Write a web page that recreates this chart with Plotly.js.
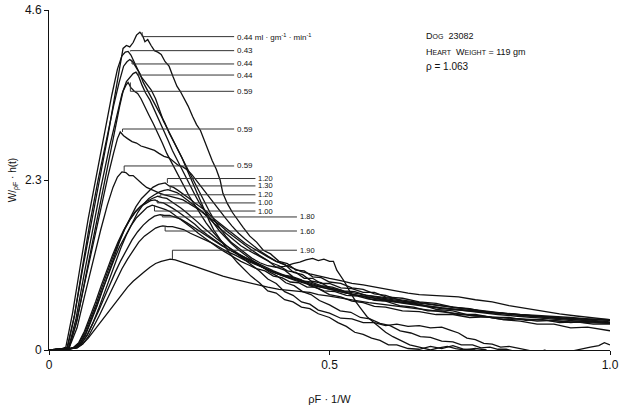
<!DOCTYPE html>
<html>
<head>
<meta charset="utf-8">
<script src="https://cdn.plot.ly/plotly-3.0.1.min.js"></script>
<style>
  body { margin: 0; background: #fff; }
  #plot { width: 623px; height: 405px; }
</style>
</head>
<body>
<div id="plot"></div>
<script>
// indicator dilution curves, dog 23082
// each curve is a list of [pF*1/W, W/pF*h(t)] points

// flow labels, same order as the curves below
let flowLabels = ['0.44 ml · gm<sup>-1</sup> · min<sup>-1</sup>', '0.43', '0.44', '0.44', '0.59', '0.59', '0.59',
    '1.20', '1.30', '1.20', '1.00', '1.00', '1.80', '1.60', '1.90']

// height of each label's leader line (same units as y axis)
let labelLevels = [4.24, 4.05, 3.87, 3.72, 3.5, 2.99, 2.49, 2.32, 2.22, 2.1, 1.99, 1.88, 1.8, 1.61, 1.35]

// low flow curves
let curve01 = [[0,0],[0.02,0.01],[0.032,0.03],[0.045,0.45],[0.06,1.1],[0.075,1.72],[0.09,2.3],[0.105,2.9],[0.118,3.45],[0.126,3.82],[0.132,4.08],[0.138,4.12],[0.144,4.1],[0.15,4.16],[0.156,4.26],[0.162,4.3],[0.167,4.25],[0.171,4.17],[0.176,4.2],[0.182,4.12],[0.188,4.05],[0.194,4.03],[0.2,4.0],[0.207,3.9],[0.214,3.84],[0.221,3.7],[0.228,3.57],[0.234,3.5],[0.241,3.4],[0.248,3.3],[0.256,3.16],[0.263,3.05],[0.27,2.97],[0.277,2.83],[0.284,2.7],[0.291,2.56],[0.298,2.45],[0.305,2.3],[0.31,2.12],[0.318,1.98],[0.327,1.86],[0.336,1.76],[0.346,1.66],[0.358,1.54],[0.37,1.46],[0.382,1.35],[0.395,1.3],[0.41,1.2],[0.425,1.17],[0.44,1.08],[0.455,1.07],[0.47,0.99],[0.485,0.98],[0.5,0.92],[0.52,0.9],[0.54,0.84],[0.56,0.82],[0.58,0.76],[0.6,0.74],[0.63,0.66],[0.66,0.62],[0.69,0.55],[0.72,0.53],[0.75,0.47],[0.78,0.45],[0.81,0.41],[0.84,0.39],[0.87,0.35],[0.9,0.35],[0.93,0.3],[0.96,0.31],[1.0,0.26]]
let curve02 = [[0,0],[0.02,0.01],[0.03,0.04],[0.042,0.5],[0.056,1.15],[0.07,1.78],[0.085,2.38],[0.1,2.98],[0.112,3.45],[0.122,3.8],[0.13,3.98],[0.136,4.03],[0.141,4.04],[0.146,3.99],[0.152,3.9],[0.158,3.8],[0.164,3.7],[0.17,3.64],[0.176,3.58],[0.182,3.52],[0.19,3.4],[0.197,3.25],[0.204,3.1],[0.212,2.98],[0.22,2.86],[0.228,2.74],[0.237,2.6],[0.246,2.44],[0.255,2.28],[0.262,2.16],[0.27,2.02],[0.278,1.88],[0.286,1.74],[0.294,1.62],[0.303,1.52],[0.313,1.4],[0.323,1.3],[0.335,1.19],[0.347,1.1],[0.36,1.0],[0.375,0.91],[0.39,0.8],[0.405,0.77],[0.42,0.68],[0.435,0.65],[0.45,0.58],[0.465,0.56],[0.48,0.49],[0.5,0.44],[0.515,0.37],[0.53,0.32],[0.545,0.24],[0.56,0.21],[0.575,0.16],[0.59,0.13],[0.605,0.07],[0.62,0.07],[0.64,0.02],[0.66,0.01],[0.68,0.05],[0.7,0.02],[0.72,0.06],[0.74,0.01],[0.76,0.0]]
let curve03 = [[0,0],[0.02,0.01],[0.033,0.03],[0.045,0.45],[0.058,1.05],[0.072,1.68],[0.087,2.28],[0.102,2.85],[0.115,3.3],[0.125,3.62],[0.133,3.84],[0.139,3.9],[0.144,3.93],[0.149,3.9],[0.155,3.82],[0.162,3.74],[0.168,3.62],[0.175,3.52],[0.182,3.43],[0.19,3.32],[0.198,3.2],[0.206,3.08],[0.214,2.94],[0.222,2.82],[0.23,2.7],[0.238,2.6],[0.246,2.48],[0.254,2.34],[0.262,2.22],[0.27,2.1],[0.278,1.98],[0.287,1.86],[0.296,1.74],[0.305,1.64],[0.315,1.54],[0.326,1.45],[0.338,1.38],[0.35,1.3],[0.362,1.24],[0.376,1.18],[0.39,1.14],[0.405,1.12],[0.42,1.13],[0.435,1.17],[0.447,1.19],[0.458,1.22],[0.47,1.24],[0.48,1.21],[0.49,1.23],[0.5,1.2],[0.507,1.2],[0.513,1.08],[0.52,1.0],[0.527,0.92],[0.537,0.78],[0.548,0.64],[0.558,0.54],[0.567,0.45],[0.578,0.38],[0.59,0.31],[0.6,0.24],[0.613,0.18],[0.628,0.12],[0.643,0.07],[0.66,0.04],[0.68,0.0],[0.695,0.03],[0.71,0.05],[0.725,0.02],[0.74,0.0],[0.76,0.02],[0.78,0.0]]
let curve04 = [[0,0],[0.02,0.01],[0.035,0.03],[0.048,0.42],[0.062,1.0],[0.077,1.6],[0.092,2.18],[0.107,2.72],[0.12,3.15],[0.13,3.46],[0.138,3.63],[0.145,3.7],[0.15,3.74],[0.155,3.76],[0.16,3.7],[0.166,3.58],[0.172,3.48],[0.18,3.38],[0.188,3.25],[0.196,3.12],[0.204,2.98],[0.212,2.84],[0.22,2.7],[0.228,2.58],[0.236,2.46],[0.244,2.32],[0.252,2.2],[0.26,2.1],[0.268,1.99],[0.276,1.9],[0.285,1.8],[0.295,1.7],[0.305,1.6],[0.315,1.52],[0.325,1.44],[0.337,1.36],[0.35,1.28],[0.363,1.21],[0.377,1.14],[0.392,1.06],[0.407,1.0],[0.422,0.91],[0.437,0.87],[0.452,0.79],[0.467,0.75],[0.482,0.67],[0.5,0.61],[0.519,0.53],[0.538,0.51],[0.555,0.44],[0.572,0.42],[0.59,0.36],[0.608,0.33],[0.626,0.26],[0.645,0.23],[0.662,0.18],[0.68,0.17],[0.7,0.12],[0.72,0.11],[0.735,0.07],[0.755,0.07],[0.77,0.03],[0.786,0.04],[0.8,0.01],[0.815,0.01],[0.83,-0.02],[0.845,-0.04],[0.86,-0.07],[0.875,-0.08],[0.89,-0.05],[0.905,-0.07],[0.92,-0.03],[0.935,-0.01],[0.95,0.02],[0.965,0.04],[0.98,0.06],[0.99,0.1],[1.0,0.07]]
let curve05 = [[0,0],[0.02,0.01],[0.036,0.03],[0.05,0.4],[0.065,0.98],[0.08,1.56],[0.095,2.1],[0.108,2.6],[0.118,3.0],[0.126,3.3],[0.132,3.5],[0.137,3.58],[0.141,3.62],[0.146,3.55],[0.152,3.5],[0.158,3.47],[0.164,3.4],[0.17,3.3],[0.178,3.18],[0.186,3.06],[0.194,2.94],[0.202,2.8],[0.21,2.66],[0.218,2.54],[0.226,2.42],[0.234,2.3],[0.242,2.18],[0.25,2.08],[0.26,1.96],[0.27,1.84],[0.28,1.72],[0.292,1.6],[0.305,1.49],[0.318,1.4],[0.332,1.32],[0.346,1.24],[0.36,1.15],[0.375,1.07],[0.39,0.96],[0.405,0.9],[0.42,0.79],[0.435,0.74],[0.45,0.65],[0.465,0.62],[0.48,0.54],[0.5,0.5],[0.52,0.43],[0.54,0.42],[0.56,0.37],[0.58,0.37],[0.6,0.33],[0.62,0.35],[0.64,0.32],[0.66,0.33],[0.68,0.3],[0.7,0.31],[0.715,0.27],[0.73,0.23],[0.745,0.16],[0.76,0.14],[0.775,0.09],[0.79,0.08],[0.805,0.04],[0.82,0.05],[0.84,0.02],[0.855,-0.01],[0.87,-0.03],[0.885,0.0]]
let curve06 = [[0,0],[0.02,0.01],[0.035,0.03],[0.048,0.35],[0.062,0.85],[0.077,1.38],[0.092,1.9],[0.105,2.35],[0.115,2.66],[0.122,2.86],[0.127,2.95],[0.133,2.9],[0.14,2.86],[0.148,2.82],[0.156,2.8],[0.164,2.76],[0.172,2.74],[0.18,2.72],[0.188,2.7],[0.196,2.66],[0.205,2.62],[0.214,2.6],[0.222,2.55],[0.23,2.5],[0.238,2.48],[0.246,2.44],[0.254,2.38],[0.262,2.3],[0.27,2.22],[0.278,2.14],[0.286,2.06],[0.295,1.98],[0.305,1.88],[0.315,1.78],[0.326,1.68],[0.338,1.58],[0.35,1.5],[0.363,1.42],[0.376,1.34],[0.39,1.27],[0.405,1.2],[0.42,1.16],[0.436,1.05],[0.452,1.02],[0.468,0.93],[0.485,0.91],[0.5,0.84],[0.52,0.81],[0.54,0.75],[0.56,0.73],[0.58,0.67],[0.6,0.66],[0.625,0.6],[0.65,0.58],[0.675,0.53],[0.7,0.53],[0.73,0.48],[0.76,0.48],[0.79,0.44],[0.82,0.44],[0.85,0.4],[0.88,0.41],[0.91,0.37],[0.94,0.38],[0.97,0.35],[1.0,0.35]]
let curve07 = [[0,0],[0.02,0.01],[0.036,0.03],[0.05,0.3],[0.064,0.75],[0.078,1.2],[0.092,1.62],[0.104,1.96],[0.114,2.2],[0.122,2.34],[0.13,2.41],[0.137,2.4],[0.143,2.36],[0.15,2.36],[0.158,2.3],[0.166,2.25],[0.174,2.2],[0.182,2.17],[0.19,2.15],[0.198,2.12],[0.206,2.1],[0.214,2.08],[0.222,2.06],[0.23,2.05],[0.239,2.03],[0.248,1.99],[0.258,1.94],[0.269,1.89],[0.28,1.82],[0.292,1.76],[0.305,1.69],[0.318,1.6],[0.332,1.52],[0.346,1.43],[0.36,1.36],[0.375,1.28],[0.39,1.21],[0.405,1.12],[0.42,1.08],[0.435,0.99],[0.45,0.95],[0.465,0.87],[0.48,0.83],[0.5,0.75],[0.52,0.72],[0.54,0.66],[0.56,0.64],[0.58,0.59],[0.6,0.58],[0.63,0.53],[0.66,0.52],[0.69,0.48],[0.72,0.48],[0.75,0.44],[0.78,0.45],[0.81,0.41],[0.84,0.42],[0.87,0.39],[0.9,0.4],[0.93,0.37],[0.96,0.39],[1.0,0.37]]

// high flow curves
let curve08 = [[0,0],[0.03,0.01],[0.045,0.03],[0.055,0.08],[0.065,0.2],[0.075,0.38],[0.085,0.58],[0.095,0.8],[0.105,1.02],[0.115,1.24],[0.125,1.45],[0.135,1.64],[0.145,1.8],[0.155,1.94],[0.165,2.05],[0.175,2.13],[0.185,2.2],[0.195,2.24],[0.202,2.25],[0.207,2.26],[0.214,2.22],[0.222,2.2],[0.23,2.16],[0.24,2.11],[0.25,2.05],[0.26,1.99],[0.27,1.94],[0.28,1.88],[0.29,1.8],[0.3,1.74],[0.312,1.66],[0.325,1.58],[0.338,1.5],[0.35,1.44],[0.363,1.38],[0.376,1.32],[0.39,1.26],[0.405,1.2],[0.42,1.15],[0.435,1.1],[0.45,1.06],[0.465,1.03],[0.48,1.0],[0.5,0.97],[0.52,0.94],[0.54,0.9],[0.56,0.88],[0.58,0.85],[0.6,0.82],[0.62,0.79],[0.64,0.77],[0.66,0.75],[0.68,0.74],[0.7,0.73],[0.73,0.72],[0.76,0.68],[0.79,0.65],[0.82,0.6],[0.85,0.56],[0.88,0.52],[0.91,0.49],[0.94,0.46],[0.97,0.43],[1.0,0.41]]
let curve09 = [[0,0],[0.03,0.01],[0.047,0.03],[0.058,0.09],[0.068,0.2],[0.078,0.36],[0.088,0.55],[0.098,0.76],[0.108,0.97],[0.118,1.18],[0.128,1.38],[0.138,1.56],[0.148,1.72],[0.158,1.86],[0.168,1.97],[0.178,2.05],[0.188,2.1],[0.197,2.14],[0.205,2.16],[0.212,2.17],[0.22,2.15],[0.228,2.13],[0.236,2.09],[0.245,2.04],[0.255,1.98],[0.265,1.92],[0.275,1.86],[0.285,1.78],[0.296,1.7],[0.307,1.63],[0.318,1.56],[0.33,1.48],[0.342,1.41],[0.355,1.35],[0.368,1.3],[0.382,1.24],[0.396,1.18],[0.41,1.14],[0.425,1.07],[0.44,1.05],[0.455,0.97],[0.47,0.97],[0.485,0.9],[0.5,0.9],[0.52,0.84],[0.54,0.83],[0.56,0.78],[0.58,0.78],[0.6,0.72],[0.63,0.7],[0.66,0.65],[0.69,0.63],[0.72,0.58],[0.75,0.56],[0.78,0.51],[0.81,0.5],[0.84,0.47],[0.87,0.45],[0.9,0.43],[0.93,0.41],[0.96,0.39],[1.0,0.37]]
let curve10 = [[0,0],[0.03,0.01],[0.044,0.03],[0.054,0.1],[0.064,0.24],[0.074,0.42],[0.084,0.62],[0.094,0.84],[0.104,1.06],[0.114,1.26],[0.124,1.45],[0.134,1.62],[0.144,1.76],[0.154,1.87],[0.164,1.95],[0.174,2.01],[0.184,2.05],[0.194,2.08],[0.202,2.06],[0.21,2.05],[0.218,2.01],[0.226,1.97],[0.235,1.92],[0.245,1.86],[0.255,1.8],[0.265,1.73],[0.276,1.65],[0.288,1.57],[0.3,1.5],[0.312,1.43],[0.325,1.36],[0.338,1.3],[0.352,1.24],[0.366,1.18],[0.38,1.12],[0.395,1.07],[0.41,1.02],[0.425,0.98],[0.44,0.94],[0.455,0.9],[0.47,0.87],[0.49,0.84],[0.51,0.8],[0.53,0.77],[0.55,0.74],[0.575,0.71],[0.6,0.68],[0.625,0.65],[0.65,0.62],[0.68,0.59],[0.71,0.56],[0.74,0.53],[0.77,0.5],[0.8,0.48],[0.83,0.46],[0.86,0.44],[0.89,0.42],[0.92,0.4],[0.96,0.38],[1.0,0.36]]
let curve11 = [[0,0],[0.03,0.01],[0.043,0.03],[0.053,0.1],[0.063,0.25],[0.073,0.44],[0.083,0.65],[0.093,0.87],[0.103,1.08],[0.113,1.28],[0.123,1.46],[0.133,1.62],[0.143,1.75],[0.153,1.86],[0.163,1.94],[0.173,1.99],[0.181,2.02],[0.189,2.03],[0.196,2.0],[0.204,1.99],[0.212,1.96],[0.22,1.92],[0.23,1.87],[0.24,1.82],[0.25,1.76],[0.26,1.7],[0.27,1.63],[0.282,1.56],[0.294,1.49],[0.306,1.43],[0.318,1.37],[0.33,1.32],[0.343,1.26],[0.356,1.21],[0.37,1.16],[0.385,1.1],[0.4,1.05],[0.415,1.01],[0.43,0.97],[0.445,0.93],[0.46,0.9],[0.475,0.87],[0.49,0.84],[0.51,0.8],[0.53,0.77],[0.55,0.74],[0.57,0.71],[0.595,0.68],[0.62,0.65],[0.645,0.62],[0.67,0.6],[0.7,0.57],[0.73,0.55],[0.76,0.52],[0.79,0.5],[0.82,0.48],[0.85,0.46],[0.88,0.44],[0.91,0.43],[0.94,0.42],[0.97,0.41],[1.0,0.4]]
let curve12 = [[0,0],[0.03,0.01],[0.046,0.03],[0.056,0.1],[0.066,0.24],[0.076,0.42],[0.086,0.62],[0.096,0.83],[0.106,1.03],[0.116,1.22],[0.126,1.4],[0.136,1.55],[0.146,1.68],[0.156,1.79],[0.166,1.87],[0.175,1.93],[0.184,1.96],[0.192,1.94],[0.2,1.93],[0.208,1.9],[0.216,1.87],[0.225,1.82],[0.235,1.77],[0.245,1.71],[0.255,1.65],[0.266,1.58],[0.278,1.51],[0.29,1.44],[0.302,1.38],[0.315,1.32],[0.328,1.26],[0.342,1.2],[0.356,1.15],[0.37,1.1],[0.385,1.07],[0.4,1.0],[0.415,0.98],[0.43,0.92],[0.445,0.91],[0.46,0.85],[0.475,0.85],[0.49,0.8],[0.51,0.79],[0.53,0.74],[0.55,0.73],[0.57,0.69],[0.595,0.67],[0.62,0.64],[0.645,0.61],[0.67,0.59],[0.7,0.56],[0.73,0.54],[0.76,0.52],[0.79,0.5],[0.82,0.48],[0.85,0.46],[0.88,0.44],[0.91,0.43],[0.94,0.41],[0.97,0.4],[1.0,0.38]]
let curve13 = [[0,0],[0.03,0.01],[0.048,0.03],[0.058,0.09],[0.068,0.2],[0.078,0.35],[0.088,0.52],[0.098,0.7],[0.108,0.88],[0.118,1.05],[0.128,1.21],[0.138,1.36],[0.148,1.49],[0.158,1.6],[0.168,1.69],[0.178,1.76],[0.188,1.81],[0.198,1.83],[0.206,1.82],[0.215,1.82],[0.225,1.79],[0.235,1.77],[0.246,1.72],[0.258,1.66],[0.27,1.6],[0.282,1.54],[0.295,1.47],[0.308,1.41],[0.32,1.36],[0.335,1.3],[0.35,1.25],[0.365,1.2],[0.38,1.14],[0.4,1.07],[0.42,1.01],[0.44,0.96],[0.46,0.92],[0.48,0.87],[0.5,0.84],[0.52,0.8],[0.545,0.77],[0.57,0.73],[0.595,0.7],[0.62,0.67],[0.65,0.64],[0.68,0.61],[0.71,0.59],[0.74,0.56],[0.77,0.53],[0.8,0.5],[0.83,0.48],[0.86,0.46],[0.89,0.44],[0.92,0.43],[0.96,0.42],[1.0,0.4]]
let curve14 = [[0,0],[0.03,0.01],[0.05,0.03],[0.06,0.08],[0.07,0.18],[0.08,0.32],[0.09,0.47],[0.1,0.63],[0.11,0.79],[0.12,0.95],[0.13,1.1],[0.14,1.23],[0.15,1.35],[0.16,1.46],[0.17,1.54],[0.18,1.6],[0.19,1.65],[0.197,1.67],[0.203,1.68],[0.211,1.67],[0.22,1.67],[0.23,1.65],[0.24,1.63],[0.252,1.58],[0.264,1.54],[0.276,1.5],[0.29,1.45],[0.304,1.39],[0.318,1.33],[0.333,1.28],[0.348,1.22],[0.364,1.17],[0.38,1.12],[0.396,1.08],[0.412,1.02],[0.43,1.0],[0.448,0.94],[0.466,0.92],[0.485,0.87],[0.505,0.85],[0.525,0.8],[0.545,0.79],[0.565,0.74],[0.59,0.72],[0.615,0.69],[0.64,0.66],[0.665,0.63],[0.69,0.61],[0.72,0.58],[0.75,0.55],[0.78,0.53],[0.81,0.5],[0.84,0.48],[0.87,0.47],[0.9,0.45],[0.93,0.44],[0.96,0.42],[1.0,0.41]]
let curve15 = [[0,0],[0.03,0.01],[0.05,0.03],[0.06,0.08],[0.07,0.16],[0.08,0.26],[0.09,0.36],[0.1,0.46],[0.11,0.56],[0.12,0.66],[0.13,0.76],[0.14,0.85],[0.15,0.93],[0.16,1.0],[0.17,1.06],[0.18,1.12],[0.19,1.17],[0.2,1.2],[0.208,1.22],[0.216,1.23],[0.225,1.22],[0.235,1.2],[0.245,1.17],[0.26,1.13],[0.275,1.09],[0.29,1.05],[0.31,1.0],[0.33,0.96],[0.35,0.92],[0.37,0.88],[0.39,0.85],[0.41,0.82],[0.43,0.8],[0.45,0.79],[0.465,0.78],[0.48,0.75],[0.5,0.73],[0.52,0.7],[0.545,0.67],[0.57,0.64],[0.6,0.61],[0.63,0.58],[0.66,0.55],[0.69,0.52],[0.72,0.49],[0.75,0.47],[0.78,0.45],[0.81,0.43],[0.84,0.42],[0.87,0.41],[0.9,0.39],[0.93,0.38],[0.96,0.37],[1.0,0.36]]

let curves = [curve01, curve02, curve03, curve04, curve05, curve06, curve07,
    curve08, curve09, curve10, curve11, curve12, curve13, curve14, curve15]

// where the leader lines stop, by label group
let leaderEnds = [0.33, 0.33, 0.33, 0.33, 0.33, 0.33, 0.33,
    0.368, 0.368, 0.368, 0.368, 0.368, 0.442, 0.442, 0.442]

let ink = '#111'
let data = []
let shapes = []
let annotations = []

for (var i = 0; i < curves.length; i++)
{
    let pts = curves[i]
    let xs = pts.map(p => p[0])
    let ys = pts.map(p => p[1])

    data.push({
        x: xs,
        y: ys,
        type: 'scatter',
        mode: 'lines',
        line: { color: ink, width: 1.3 },
        hoverinfo: 'skip'
    })

    // leader from the peak of the curve out to its label
    let top = 0
    for (var k = 1; k < ys.length; k++) {
        if (ys[k] > ys[top]) top = k
    }
    let px = xs[top] + 0.004
    shapes.push({
        type: 'path',
        xref: 'x', yref: 'y',
        path: 'M' + px + ',' + ys[top] + ' L' + px + ',' + labelLevels[i] + ' L' + leaderEnds[i] + ',' + labelLevels[i],
        line: { color: '#333', width: 1 }
    })

    annotations.push({
        x: leaderEnds[i], y: labelLevels[i],
        xref: 'x', yref: 'y',
        text: flowLabels[i],
        showarrow: false,
        xanchor: 'left', yanchor: 'middle',
        xshift: 1,
        font: { family: 'Liberation Sans, Arial, sans-serif', size: i < 7 ? 8 : 7.5, color: ink }
    })
}

// study details, upper right
annotations.push({
    x: 0.668, y: 4.25, xref: 'x', yref: 'y', showarrow: false,
    xanchor: 'left', yanchor: 'middle',
    text: 'D<span style="font-size:7px">OG</span>  23082',
    font: { family: 'Liberation Sans, Arial, sans-serif', size: 9, color: ink }
})
annotations.push({
    x: 0.668, y: 4.03, xref: 'x', yref: 'y', showarrow: false,
    xanchor: 'left', yanchor: 'middle',
    text: 'H<span style="font-size:7px">EART</span>  W<span style="font-size:7px">EIGHT</span> = 119 gm',
    font: { family: 'Liberation Sans, Arial, sans-serif', size: 9, color: ink }
})
annotations.push({
    x: 0.668, y: 3.83, xref: 'x', yref: 'y', showarrow: false,
    xanchor: 'left', yanchor: 'middle',
    text: 'ρ = 1.063',
    font: { family: 'Liberation Sans, Arial, sans-serif', size: 10, color: ink }
})

let layout = {
    width: 623,
    height: 405,
    showlegend: false,
    paper_bgcolor: '#fff',
    plot_bgcolor: '#fff',
    margin: { l: 49, r: 13, t: 10, b: 55 },
    font: { family: 'Liberation Sans, Arial, sans-serif', color: ink },
    xaxis: {
        range: [0, 1.0],
        tickvals: [0, 0.5, 1.0],
        ticktext: ['0', '0.5', '1.0'],
        ticks: 'outside',
        ticklen: 4,
        tickcolor: ink,
        showline: true,
        linecolor: ink,
        linewidth: 1,
        showgrid: false,
        zeroline: false,
        tickfont: { size: 12 },
        title: { text: 'ρF · 1/W', font: { size: 11 }, standoff: 24 }
    },
    yaxis: {
        range: [0, 4.6],
        tickvals: [0, 2.3, 4.6],
        ticktext: ['0', '2.3', '4.6'],
        ticks: 'outside',
        ticklen: 4,
        tickcolor: ink,
        showline: true,
        linecolor: ink,
        linewidth: 1,
        showgrid: false,
        zeroline: false,
        tickfont: { size: 12 },
        title: { text: 'W/<sub>ρF</sub> · h(t)', font: { size: 10 }, standoff: 6 }
    },
    shapes: shapes,
    annotations: annotations
}

Plotly.newPlot('plot', data, layout, { staticPlot: true })
</script>
</body>
</html>
